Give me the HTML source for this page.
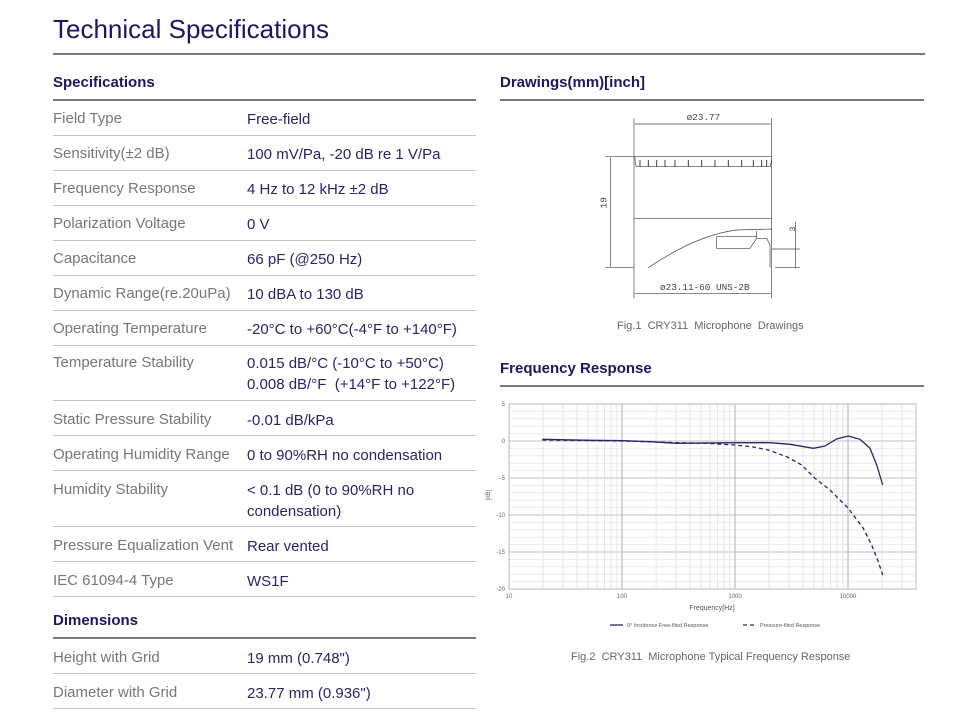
<!DOCTYPE html>
<html><head><meta charset="utf-8"><style>
body{margin:0;width:955px;height:715px;background:#fff;position:relative;overflow:hidden;font-family:"Liberation Sans",sans-serif}
.a{position:absolute;white-space:nowrap}
.t{left:53px;top:14px;font-size:26px;color:#1d1660}
.h{font-size:15px;font-weight:bold;color:#1d1660}
.l{left:53px;font-size:15px;color:#777;margin-top:1px}
.v{left:247px;font-size:15px;color:#2a2566;line-height:21px;margin-top:1px}
.ln{position:absolute;height:1px;background:#c4c4c4;left:53px;width:423px}
.hl{position:absolute;height:2px;background:#777}
.cap{font-size:11px;color:#666}
</style></head><body>
<div class="a t">Technical Specifications</div>
<div class="hl" style="left:53px;top:53px;width:872px"></div>
<div class="a h" style="left:53px;top:74px">Specifications</div>
<div class="hl" style="left:53px;top:99px;width:423px;height:2px"></div>
<div class="a h" style="left:500px;top:74px">Drawings(mm)[inch]</div>
<div class="hl" style="left:500px;top:99px;width:424px"></div>
<div class="a h" style="left:500px;top:360px">Frequency Response</div>
<div class="hl" style="left:500px;top:385px;width:424px"></div>

<div class="a l" style="top:109px">Field Type</div><div class="a v" style="top:108px">Free-field</div><div class="ln" style="top:135px"></div>
<div class="a l" style="top:144px">Sensitivity(±2 dB)</div><div class="a v" style="top:143px">100 mV/Pa, -20 dB re 1 V/Pa</div><div class="ln" style="top:170px"></div>
<div class="a l" style="top:179px">Frequency Response</div><div class="a v" style="top:178px">4 Hz to 12 kHz ±2 dB</div><div class="ln" style="top:205px"></div>
<div class="a l" style="top:214px">Polarization Voltage</div><div class="a v" style="top:213px">0 V</div><div class="ln" style="top:240px"></div>
<div class="a l" style="top:249px">Capacitance</div><div class="a v" style="top:248px">66 pF (@250 Hz)</div><div class="ln" style="top:275px"></div>
<div class="a l" style="top:284px">Dynamic Range(re.20uPa)</div><div class="a v" style="top:283px">10 dBA to 130 dB</div><div class="ln" style="top:310px"></div>
<div class="a l" style="top:319px">Operating Temperature</div><div class="a v" style="top:318px">-20°C to +60°C(-4°F to +140°F)</div><div class="ln" style="top:345px"></div>
<div class="a l" style="top:353px">Temperature Stability</div><div class="a v" style="top:352px">0.015 dB/°C (-10°C to +50°C)<br>0.008 dB/°F &nbsp;(+14°F to +122°F)</div><div class="ln" style="top:400px"></div>
<div class="a l" style="top:410px">Static Pressure Stability</div><div class="a v" style="top:409px">-0.01 dB/kPa</div><div class="ln" style="top:435px"></div>
<div class="a l" style="top:445px">Operating Humidity Range</div><div class="a v" style="top:444px">0 to 90%RH no condensation</div><div class="ln" style="top:470px"></div>
<div class="a l" style="top:480px">Humidity Stability</div><div class="a v" style="top:479px">&lt; 0.1 dB (0 to 90%RH no<br>condensation)</div><div class="ln" style="top:526px"></div>
<div class="a l" style="top:536px">Pressure Equalization Vent</div><div class="a v" style="top:535px">Rear vented</div><div class="ln" style="top:561px"></div>
<div class="a l" style="top:571px">IEC 61094-4 Type</div><div class="a v" style="top:570px">WS1F</div><div class="ln" style="top:596px"></div>
<div class="a h" style="left:53px;top:612px">Dimensions</div>
<div class="hl" style="left:53px;top:637px;width:423px"></div>
<div class="a l" style="top:648px">Height with Grid</div><div class="a v" style="top:647px">19 mm (0.748")</div><div class="ln" style="top:673px"></div>
<div class="a l" style="top:683px">Diameter with Grid</div><div class="a v" style="top:682px">23.77 mm (0.936")</div><div class="ln" style="top:708px"></div>

<svg class="a" style="left:590px;top:105px" width="220" height="195" viewBox="0 0 660 585" fill="none" stroke="#444" stroke-width="2">
<line x1="132" y1="40" x2="132" y2="580"/><line x1="545" y1="40" x2="545" y2="580"/>
<line x1="135" y1="57" x2="542" y2="57"/>
<text x="290" y="45" font-size="28" fill="#444" stroke="none" font-family="Liberation Mono">ø23.77</text>
<line x1="45" y1="155" x2="545" y2="155"/><line x1="45" y1="488" x2="132" y2="488"/>
<line x1="62" y1="158" x2="62" y2="485"/>
<text x="50" y="330" font-size="28" fill="#444" stroke="none" transform="rotate(-90 40 320)" font-family="Liberation Mono">19</text>
<path d="M135 155 Q135 180 140 185 L540 185 Q545 170 545 160"/>
<path d="M150 165v20M175 165v20M200 165v20M225 165v20M255 165v20M295 165v20M335 165v20M375 165v20M415 165v20M455 165v20M490 165v20M515 165v20M530 165v20" stroke-width="3"/>
<line x1="132" y1="340" x2="545" y2="340"/>
<path d="M175 488 Q320 390 440 375 L545 372"/>
<path d="M380 395 L380 430 L480 430 L500 400 L530 400 L540 420 L540 488"/>
<line x1="380" y1="395" x2="500" y2="395"/><line x1="500" y1="378" x2="500" y2="400"/>
<line x1="545" y1="432" x2="630" y2="432"/><line x1="555" y1="488" x2="630" y2="488"/>
<line x1="617" y1="350" x2="617" y2="488"/>
<text x="610" y="395" font-size="26" fill="#444" stroke="none" transform="rotate(-90 605 385)" font-family="Liberation Mono">3</text>
<line x1="135" y1="565" x2="542" y2="565"/>
<text x="210" y="555" font-size="28" fill="#444" stroke="none" font-family="Liberation Mono">ø23.11-60 UNS-2B</text>
</svg>
<div class="a cap" style="left:617px;top:320px">Fig.1 &nbsp;CRY311 &nbsp;Microphone &nbsp;Drawings</div>

<svg class="a" style="left:480px;top:395px" width="460" height="240" id="ch" font-family="Liberation Sans"></svg>
<div class="a cap" style="left:571px;top:651px">Fig.2 &nbsp;CRY311 &nbsp;Microphone Typical Frequency Response</div>
<script>
var s='',ox=-480,oy=-395;
function X(f){return 509+113*Math.log10(f/10)+ox}
function Y(d){return 441-d*7.4+oy}
for(var d=5;d>=-20;d--){var w=d%5==0;s+='<line x1="'+(509+ox)+'" x2="'+(916+ox)+'" y1="'+Y(d)+'" y2="'+Y(d)+'" stroke="'+(w?'#ccc':'#e8e8e8')+'" stroke-width="'+(w?1.2:0.8)+'"/>';}
[10,100,1000,10000].forEach(function(b){for(var k=1;k<10;k++){var f=b*k;if(f>30000)return;s+='<line x1="'+X(f)+'" x2="'+X(f)+'" y1="'+Y(5)+'" y2="'+Y(-20)+'" stroke="'+(k==1?'#bbb':'#e0e0e0')+'" stroke-width="'+(k==1?1.2:0.8)+'"/>';}});
s+='<rect x="'+(509+ox)+'" y="'+Y(5)+'" width="407" height="'+(Y(-20)-Y(5))+'" fill="none" stroke="#ccc" stroke-width="1.2"/>';
for(var d=5;d>=-20;d-=5)s+='<text x="'+(505+ox)+'" y="'+(Y(d)+2)+'" font-size="6" fill="#666" text-anchor="end">'+d+'</text>';
[10,100,1000,10000].forEach(function(f){s+='<text x="'+X(f)+'" y="'+(Y(-20)+9)+'" font-size="6" fill="#666" text-anchor="middle">'+f+'</text>'});
s+='<text x="712" y="'+(610+oy)+'" font-size="7" fill="#555" text-anchor="middle" transform="translate('+ox+',0)">Frequency[Hz]</text>';
s+='<text font-size="6" fill="#666" transform="translate(10,100) rotate(-90)" text-anchor="middle">[dB]</text>';
function P(a){return a.map(function(p){return (490+p[0]/3+ox).toFixed(1)+','+(395+p[1]/3+oy).toFixed(1)}).join(' ')}
var sol=[[157,133],[300,136],[400,137],[480,140],[560,145],[735,143],[840,143],[900,148],[970,160],[1005,153],[1040,132],[1075,123],[1110,133],[1140,160],[1160,210],[1178,270]];
var das=[[157,135],[400,138],[560,143],[650,145],[735,150],[790,156],[835,165],[890,185],[935,210],[975,250],[1020,285],[1075,340],[1120,400],[1145,450],[1165,500],[1178,540]];
s+='<polyline points="'+P(sol)+'" fill="none" stroke="#2a2566" stroke-width="1.3"/>';
s+='<polyline points="'+P(das)+'" fill="none" stroke="#2a2566" stroke-width="1.3" stroke-dasharray="4,3"/>';
s+='<line x1="130" x2="143" y1="230" y2="230" stroke="#2a2566" stroke-width="1.3"/><text x="147" y="232" font-size="5.5" fill="#555">0° Incidence Free-filed Response</text>';
s+='<line x1="263" x2="276" y1="230" y2="230" stroke="#2a2566" stroke-width="1.3" stroke-dasharray="4,3"/><text x="280" y="232" font-size="5.5" fill="#555">Pressure-filed Response</text>';
document.getElementById('ch').innerHTML=s;
</script>
</body></html>
